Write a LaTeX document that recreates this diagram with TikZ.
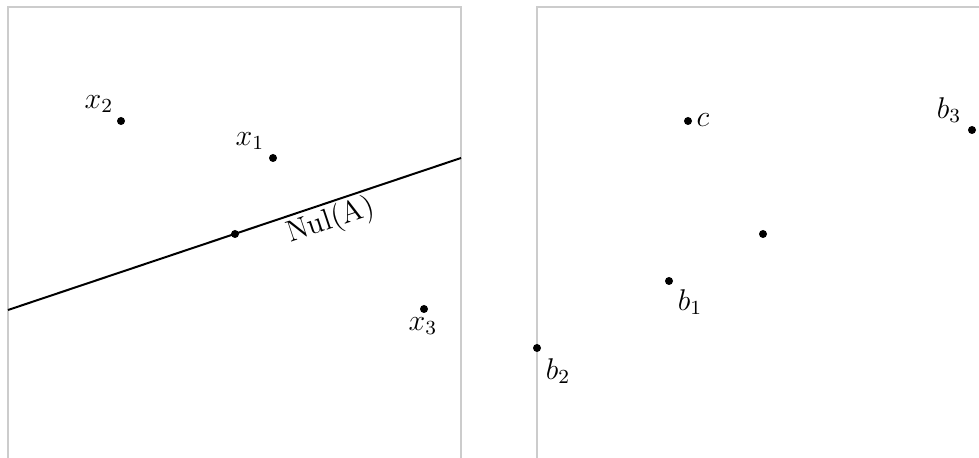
\documentclass[tikz,border=0pt]{standalone}
\begin{document}
\begin{tikzpicture}[x=0.4pt,y=-0.4pt,font=\large,
  dot/.style={circle,fill=black,inner sep=0pt,minimum size=3.2pt},
  frame/.style={draw=gray!40,line width=0.6pt},
  nulline/.style={line width=0.8pt}]
  \clip (0,0) rectangle (979,458);
  %% Frames (open at the bottom / right)
  \draw[frame] (8,470) -- (8,7) -- (461,7) -- (461,470);
  \draw[frame] (537,470) -- (537,7) -- (990,7);
  %% Null space line
  \coordinate (nulstart) at (8,310);
  \coordinate (nulend) at (461,158);
  \draw[nulline] (nulstart) -- (nulend);
  \node[dot] (p0) at (235,234) {};
  \node[rotate=18.5] (nul) at (331,221) {Nul(A)};
  %% Points: name/x/y/label/label x/label y
  \foreach \name/\px/\py/\lbl/\lx/\ly in {
    x1/273/158/{$x_1$}/250/141,
    x2/121/121/{$x_2$}/99/104,
    x3/424/309/{$x_3$}/423/326,
    c/688/121/{$c$}/703/120,
    b1/669/281/{$b_1$}/690/302,
    b2/537/348/{$b_2$}/558/371,
    b3/972/130/{$b_3$}/949/110}{
    \node[dot] (\name) at (\px,\py) {};
    \node (l\name) at (\lx,\ly) {\lbl};
  }
  %% Image of the null space point
  \node[dot] (m) at (763,234) {};
\end{tikzpicture}
\end{document}
